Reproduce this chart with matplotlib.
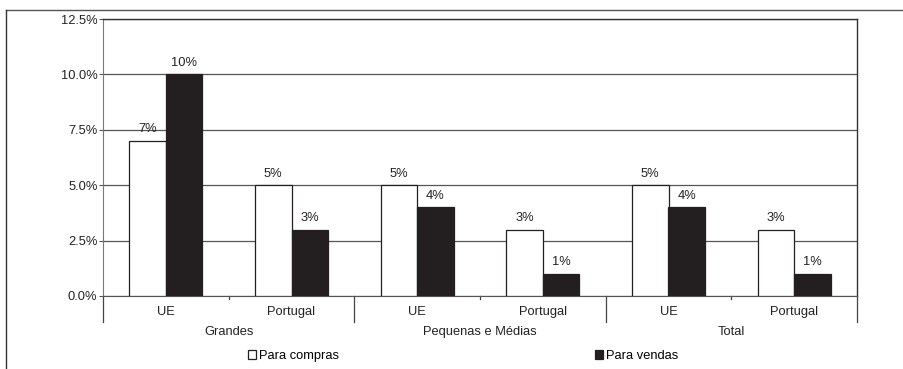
import numpy as np
import matplotlib.pyplot as plt
from matplotlib.patches import Rectangle
from matplotlib.lines import Line2D

plt.rcParams['font.family'] = ['Liberation Sans', 'DejaVu Sans']

groups = ['Grandes', 'Pequenas e Médias', 'Total']
regions = ['UE', 'Portugal']
compras = [7, 5, 5, 3, 5, 3]
vendas = [10, 3, 4, 1, 4, 1]
yticks = [0, 2.5, 5, 7.5, 10, 12.5]

fs = 9.3
dark = '#231f20'

fig = plt.figure(figsize=(9.04, 3.69), dpi=100)
ax = fig.add_axes([103 / 904, 73 / 369, 754 / 904, 277 / 369])

x = np.arange(len(compras))
w = 0.29
ax.bar(x - w / 2, compras, w, color='white', edgecolor=dark, linewidth=0.9, zorder=3)
ax.bar(x + w / 2, vendas, w, color=dark, edgecolor=dark, linewidth=0.9, zorder=3)

for xi, c, v in zip(x, compras, vendas):
    ax.annotate(f'{c}%', (xi - w / 2, c), xytext=(0, 4), textcoords='offset points',
                ha='center', va='bottom', fontsize=fs, color='#222222')
    ax.annotate(f'{v}%', (xi + w / 2, v), xytext=(0, 4), textcoords='offset points',
                ha='center', va='bottom', fontsize=fs, color='#222222')

ax.set_xlim(-0.5, 5.5)
ax.set_ylim(0, 12.5)
ax.set_yticks(yticks)
ax.set_yticklabels([f'{t:.1f}%' for t in yticks], fontsize=fs, color='#222222')
ax.tick_params(axis='y', length=3, width=0.8, color='#555555', pad=1)
ax.set_xticks([])
ax.yaxis.grid(True, color='#555555', linewidth=0.9, zorder=0)
ax.set_axisbelow(True)

for side in ['top', 'right']:
    ax.spines[side].set_color('#333333')
    ax.spines[side].set_linewidth(1.0)
ax.spines['left'].set_color('#777777')
ax.spines['bottom'].set_color('#555555')

# category separators and labels below the axis
tr = ax.get_xaxis_transform()
for xs in [-0.5, 1.5, 3.5, 5.5]:
    ax.add_line(Line2D([xs, xs], [0, -0.094], transform=tr, color='#444444',
                       linewidth=0.9, clip_on=False))
for xs in [0.5, 2.5, 4.5]:
    ax.add_line(Line2D([xs, xs], [0, -0.012], transform=tr, color='#444444',
                       linewidth=0.9, clip_on=False))
for xi in x:
    ax.text(xi, -0.057, regions[xi % 2], transform=tr, ha='center', va='center',
            fontsize=fs, color='#222222')
for gi, g in enumerate(groups):
    ax.text(2 * gi + 0.5, -0.13, g, transform=tr, ha='center', va='center',
            fontsize=fs, color='#222222')

handles = [Rectangle((0, 0), 1, 1, facecolor='white', edgecolor=dark, linewidth=0.9),
           Rectangle((0, 0), 1, 1, facecolor=dark, edgecolor=dark, linewidth=0.9)]
fig.legend(handles, ['Para compras', 'Para vendas'], loc='center',
           bbox_to_anchor=(463 / 904, 13 / 369), ncol=2, frameon=False,
           fontsize=fs, handlelength=0.65, handleheight=0.65, handletextpad=0.2,
           columnspacing=19.8, borderpad=0)

# outer frame (top and left)
fig.add_artist(Line2D([6 / 904, 1], [1 - 10 / 369, 1 - 10 / 369], transform=fig.transFigure,
                      color='#555555', linewidth=1.0))
fig.add_artist(Line2D([6 / 904, 6 / 904], [0, 1 - 10 / 369], transform=fig.transFigure,
                      color='#333333', linewidth=1.0))

fig.savefig('out.png', dpi=100)
